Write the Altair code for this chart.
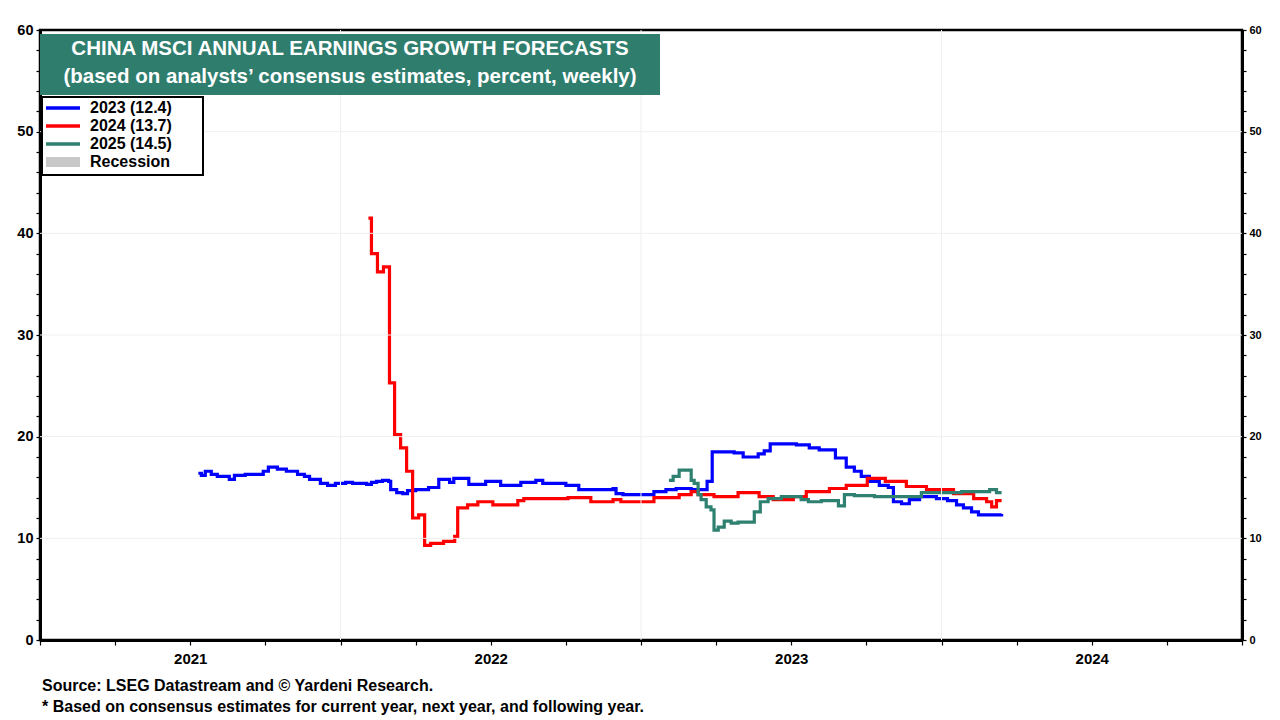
import altair as alt
import pandas as pd

# ---- data (decimal years, percent) ----
t_2023 = [2021.027, 2021.037, 2021.050, 2021.070, 2021.090, 2021.130, 2021.147, 2021.183, 2021.243, 2021.260,
          2021.290, 2021.320, 2021.357, 2021.380, 2021.397, 2021.433, 2021.457, 2021.483, 2021.517, 2021.540,
          2021.587, 2021.603, 2021.620, 2021.640, 2021.660, 2021.667, 2021.687, 2021.707, 2021.723, 2021.750,
          2021.793, 2021.827, 2021.863, 2021.877, 2021.927, 2021.983, 2022.033, 2022.100, 2022.150, 2022.173,
          2022.250, 2022.293, 2022.407, 2022.417, 2022.440, 2022.543, 2022.583, 2022.617, 2022.667, 2022.720,
          2022.737, 2022.810, 2022.840, 2022.890, 2022.910, 2022.930, 2023.017, 2023.060, 2023.093, 2023.147,
          2023.183, 2023.210, 2023.233, 2023.260, 2023.293, 2023.323, 2023.340, 2023.367, 2023.393, 2023.427,
          2023.483, 2023.520, 2023.550, 2023.573, 2023.600, 2023.623, 2023.700]
v_2023 = [16.4, 16.2, 16.6, 16.3, 16.1, 15.8, 16.2, 16.3, 16.6, 17.0,
          16.8, 16.6, 16.3, 16.1, 15.8, 15.4, 15.2, 15.4, 15.5, 15.4,
          15.3, 15.5, 15.6, 15.7, 15.6, 14.8, 14.5, 14.4, 14.7, 14.8,
          15.0, 15.8, 15.5, 15.9, 15.3, 15.6, 15.2, 15.5, 15.7, 15.4,
          15.2, 14.8, 14.9, 14.4, 14.3, 14.6, 14.8, 14.9, 14.8, 15.6,
          18.5, 18.4, 18.0, 18.3, 18.6, 19.3, 19.2, 18.9, 18.7, 17.9,
          17.0, 16.6, 16.1, 15.6, 15.2, 15.0, 13.6, 13.4, 13.8, 14.1,
          13.9, 13.7, 13.3, 13.0, 12.6, 12.3, 12.4]

t_2024 = [2021.593, 2021.603, 2021.623, 2021.643, 2021.663, 2021.680, 2021.700, 2021.720, 2021.740, 2021.760,
          2021.780, 2021.800, 2021.843, 2021.880, 2021.890, 2021.923, 2021.957, 2022.007, 2022.090, 2022.110,
          2022.257, 2022.333, 2022.407, 2022.433, 2022.543, 2022.627, 2022.667, 2022.690, 2022.743, 2022.823,
          2022.893, 2022.940, 2023.007, 2023.050, 2023.127, 2023.183, 2023.253, 2023.313, 2023.383, 2023.450,
          2023.540, 2023.607, 2023.650, 2023.667, 2023.683, 2023.700]
v_2024 = [41.5, 38.0, 36.2, 36.7, 25.3, 20.2, 18.9, 16.6, 12.0, 12.3,
          9.3, 9.5, 9.7, 10.2, 13.0, 13.3, 13.6, 13.3, 13.7, 13.9,
          14.0, 13.6, 13.8, 13.6, 14.0, 14.3, 14.6, 14.3, 14.1, 14.5,
          14.1, 13.8, 14.1, 14.6, 14.9, 15.2, 15.9, 15.6, 15.1, 14.8,
          14.4, 13.9, 13.6, 13.1, 13.7, 13.7]

t_2025 = [2022.593, 2022.607, 2022.627, 2022.667, 2022.677, 2022.690, 2022.700, 2022.717, 2022.733, 2022.743,
          2022.757, 2022.777, 2022.800, 2022.823, 2022.877, 2022.897, 2022.923, 2022.967, 2023.033, 2023.057,
          2023.100, 2023.157, 2023.177, 2023.210, 2023.277, 2023.433, 2023.567, 2023.660, 2023.683, 2023.700]
v_2025 = [15.7, 16.1, 16.7, 15.7, 15.4, 14.3, 13.8, 13.1, 12.8, 10.8,
          11.1, 11.7, 11.5, 11.6, 12.6, 13.6, 13.9, 14.1, 13.8, 13.6,
          13.7, 13.2, 14.3, 14.2, 14.1, 14.5, 14.6, 14.8, 14.5, 14.5]

series_names = ["2023 (12.4)", "2024 (13.7)", "2025 (14.5)"]
legend_labels = ["2023 (12.4)", "2024 (13.7)", "2025 (14.5)", "Recession"]
legend_colors = ["#0000ff", "#ff0000", "#2e8070", "#c8c8c8"]

title_lines = ["CHINA MSCI ANNUAL EARNINGS GROWTH FORECASTS",
               "(based on analysts\u2019 consensus estimates, percent, weekly)"]
footer_lines = ["Source: LSEG Datastream and \u00a9 Yardeni Research.",
                "* Based on consensus estimates for current year, next year, and following year."]

y_grid = [10, 20, 30, 40, 50]
x_grid = [2021.5, 2022.5, 2023.5]
x_ticks = [2020.5 + 0.25 * i for i in range(17)]
y_ticks = list(range(0, 61, 2))

FONT = "Liberation Sans"
W, H = 1202, 610

rows = []
for name, ts, vs in zip(series_names, [t_2023, t_2024, t_2025], [v_2023, v_2024, v_2025]):
    for t, v in zip(ts, vs):
        rows.append({"series": name, "t": t, "v": v})
df = pd.DataFrame(rows)

xscale = alt.Scale(domain=[2020.5, 2024.5], nice=False, zero=False)
yscale = alt.Scale(domain=[0, 60], nice=False)

x_axis = alt.Axis(values=x_ticks,
                  labelExpr="abs(datum.value - round(datum.value)) < 0.01 ? format(datum.value, 'd') : ''",
                  labelOverlap=False, tickSize=5, tickColor="black", tickWidth=1.2,
                  domainColor="black", domainWidth=3, labelFont=FONT, labelFontSize=15,
                  labelFontWeight="bold", labelColor="black", labelPadding=6, grid=False, title=None)

y_left = alt.Axis(values=y_ticks, labelExpr="datum.value % 10 == 0 ? datum.value : ''",
                  tickSize=4, tickColor="black", tickWidth=1.2, domainColor="black", domainWidth=3,
                  labelFont=FONT, labelFontSize=14.5, labelFontWeight="bold", labelColor="black",
                  labelPadding=3, grid=False, title=None, orient="left")
y_right = alt.Axis(values=y_ticks, labelExpr="datum.value % 10 == 0 ? datum.value : ''",
                   tickSize=4, tickColor="black", tickWidth=1.2, domainColor="black", domainWidth=3,
                   labelFont=FONT, labelFontSize=11, labelFontWeight="bold", labelColor="black",
                   labelPadding=3, grid=False, title=None, orient="right")

lines = alt.Chart(df).mark_line(strokeWidth=3.2, interpolate="step-after").encode(
    x=alt.X("t:Q", scale=xscale, axis=x_axis),
    y=alt.Y("v:Q", scale=yscale, axis=y_left),
    color=alt.Color("series:N", scale=alt.Scale(domain=series_names, range=legend_colors[:3]), legend=None),
    detail="series:N",
)

hgrid = alt.Chart(pd.DataFrame({"v": y_grid})).mark_rule(color="#efefef", strokeWidth=1).encode(
    y=alt.Y("v:Q", scale=yscale, axis=y_right))
vgrid = alt.Chart(pd.DataFrame({"t": x_grid})).mark_rule(color="#efefef", strokeWidth=1).encode(
    x=alt.X("t:Q", scale=xscale, axis=x_axis))

# title box
one = pd.DataFrame({"a": [0]})
title_rect = alt.Chart(one).mark_rect(color="#2e7d6d").encode(
    x=alt.value(0), x2=alt.value(620), y=alt.value(4), y2=alt.value(65))
title_df = pd.DataFrame({"text": title_lines, "row": [0, 1]})
title_text = alt.Chart(title_df).mark_text(font=FONT, fontSize=20.5, fontWeight="bold", color="white",
                                           align="center", baseline="middle").encode(
    x=alt.value(310), y=alt.Y("row:Q", scale=alt.Scale(domain=[0, 1], range=[19, 47]), axis=None),
    text="text:N")

# legend box
leg_rect = alt.Chart(one).mark_rect(fill="white", stroke="black", strokeWidth=2).encode(
    x=alt.value(2), x2=alt.value(163), y=alt.value(67), y2=alt.value(145))
leg_df = pd.DataFrame({"label": legend_labels, "color": legend_colors, "row": [0, 1, 2, 3]})
ypos = alt.Scale(domain=[0, 3], range=[78, 132])
leg_lines = alt.Chart(leg_df[leg_df.label != "Recession"]).mark_rule(strokeWidth=3.5).encode(
    x=alt.value(6), x2=alt.value(40),
    y=alt.Y("row:Q", scale=ypos, axis=None),
    color=alt.Color("color:N", scale=None))
leg_box = alt.Chart(leg_df[leg_df.label == "Recession"]).mark_rule(strokeWidth=10).encode(
    x=alt.value(6), x2=alt.value(40),
    y=alt.Y("row:Q", scale=ypos, axis=None),
    color=alt.Color("color:N", scale=None))
leg_text = alt.Chart(leg_df).mark_text(font=FONT, fontSize=16, fontWeight="bold", color="black",
                                       align="left", baseline="middle").encode(
    x=alt.value(50), y=alt.Y("row:Q", scale=ypos, axis=None), text="label:N")

# footer
foot_df = pd.DataFrame({"text": footer_lines, "row": [0, 1]})
foot = alt.Chart(foot_df).mark_text(font=FONT, fontSize=16, fontWeight="bold", color="black",
                                    align="left", baseline="middle").encode(
    x=alt.value(2), y=alt.Y("row:Q", scale=alt.Scale(domain=[0, 1], range=[656, 677]), axis=None),
    text="text:N")

chart = alt.layer(
    lines, vgrid, hgrid, title_rect, title_text, leg_rect, leg_lines, leg_box, leg_text, foot
).resolve_scale(y="independent", color="independent").properties(
    width=W, height=H,
    autosize=alt.AutoSizeParams(type="none"),
    padding={"left": 32, "top": 22, "right": 30, "bottom": 80},
    background="white",
).configure_view(stroke="black", strokeWidth=2.5)

chart.save("out.html", embed_options={"renderer": "svg", "actions": False})
